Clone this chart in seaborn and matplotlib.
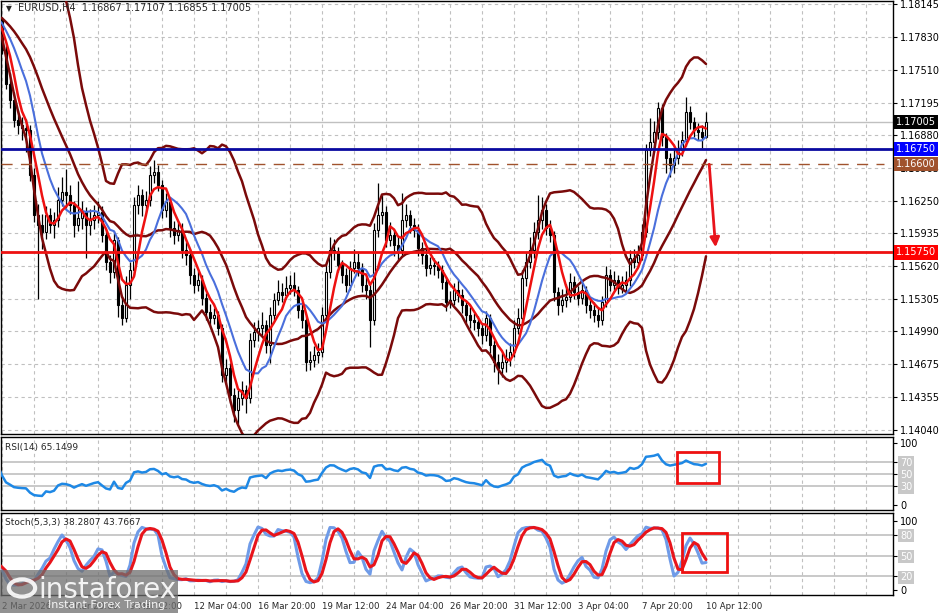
import numpy as np
import pandas as pd
import seaborn as sns
import matplotlib.pyplot as plt
from matplotlib.patches import Rectangle, Circle

# bars before the visible window (only feed the indicators)
warmup_closes = [1.1802, 1.1810, 1.1805, 1.1798, 1.1807, 1.1815, 1.1809, 1.1801, 1.1796, 1.1804,
                 1.1812, 1.1808, 1.1799, 1.1793, 1.1801, 1.1806, 1.1797, 1.1791, 1.1795, 1.1799]
warmup_highs = [1.1809, 1.1816, 1.1813, 1.1806, 1.1812, 1.1821, 1.1817, 1.1810, 1.1803, 1.1809,
                1.1818, 1.1815, 1.1808, 1.1800, 1.1806, 1.1812, 1.1806, 1.1799, 1.1801, 1.1805]
warmup_lows = [1.1795, 1.1800, 1.1799, 1.1792, 1.1796, 1.1805, 1.1803, 1.1795, 1.1790, 1.1795,
               1.1803, 1.1801, 1.1793, 1.1787, 1.1791, 1.1799, 1.1790, 1.1785, 1.1788, 1.1792]

# EURUSD H4, 2 Mar 2026 00:00 .. 10 Apr 2026 12:00
opens = [1.1799, 1.1770, 1.1737, 1.1722, 1.1703, 1.1698, 1.1695, 1.1693, 1.1650, 1.1611,
         1.1601, 1.1595, 1.1611, 1.1601, 1.1606, 1.1626, 1.1633, 1.1630, 1.1621, 1.1601,
         1.1608, 1.1614, 1.1601, 1.1606, 1.1611, 1.1614, 1.1592, 1.1566, 1.1556, 1.1587,
         1.1524, 1.1512, 1.1544, 1.1558, 1.1621, 1.1630, 1.1621, 1.1626, 1.1650, 1.1653,
         1.1640, 1.1616, 1.1624, 1.1599, 1.1592, 1.1597, 1.1577, 1.1573, 1.1553, 1.1544,
         1.1548, 1.1531, 1.1518, 1.1512, 1.1515, 1.1502, 1.1457, 1.1464, 1.1438, 1.1423,
         1.1435, 1.1442, 1.1435, 1.1491, 1.1498, 1.1502, 1.1505, 1.1486, 1.1515, 1.1529,
         1.1537, 1.1534, 1.1541, 1.1544, 1.1539, 1.1520, 1.1510, 1.1469, 1.1471, 1.1476,
         1.1479, 1.1515, 1.1556, 1.1577, 1.1576, 1.1563, 1.1553, 1.1544, 1.1560, 1.1566,
         1.1560, 1.1544, 1.1539, 1.1510, 1.1597, 1.1611, 1.1614, 1.1587, 1.1592, 1.1582,
         1.1577, 1.1606, 1.1611, 1.1601, 1.1597, 1.1579, 1.1573, 1.1560, 1.1563, 1.1562,
         1.1558, 1.1547, 1.1527, 1.1529, 1.1539, 1.1534, 1.1524, 1.1515, 1.1510, 1.1508,
         1.1502, 1.1495, 1.1512, 1.1486, 1.1469, 1.1464, 1.1469, 1.1473, 1.1479, 1.1502,
         1.1512, 1.1550, 1.1566, 1.1577, 1.1595, 1.1606, 1.1616, 1.1599, 1.1592, 1.1537,
         1.1524, 1.1529, 1.1532, 1.1547, 1.1537, 1.1531, 1.1539, 1.1524, 1.1520, 1.1515,
         1.1510, 1.1527, 1.1553, 1.1544, 1.1548, 1.1541, 1.1544, 1.1548, 1.1570, 1.1566,
         1.1573, 1.1595, 1.1674, 1.1681, 1.1691, 1.1714, 1.1686, 1.1666, 1.1659, 1.1666,
         1.1674, 1.1683, 1.1710, 1.1701, 1.1693, 1.1691, 1.16867]
highs = [1.1802, 1.1776, 1.1748, 1.1730, 1.1712, 1.1706, 1.1704, 1.1698, 1.1656, 1.1622,
         1.1612, 1.1620, 1.1618, 1.1614, 1.1638, 1.1648, 1.1655, 1.1640, 1.1625, 1.1644,
         1.1625, 1.1619, 1.1617, 1.1621, 1.1625, 1.1620, 1.1597, 1.1573, 1.1596, 1.1590,
         1.1533, 1.1552, 1.1566, 1.1628, 1.1640, 1.1636, 1.1634, 1.1658, 1.1664, 1.1659,
         1.1645, 1.1632, 1.1628, 1.1605, 1.1604, 1.1603, 1.1585, 1.1578, 1.1560, 1.1557,
         1.1553, 1.1536, 1.1525, 1.1521, 1.1519, 1.1506, 1.1472, 1.1468, 1.1444, 1.1442,
         1.1451, 1.1447, 1.1497, 1.1508, 1.1510, 1.1518, 1.1510, 1.1522, 1.1536, 1.1548,
         1.1546, 1.1552, 1.1553, 1.1556, 1.1543, 1.1526, 1.1514, 1.1480, 1.1485, 1.1488,
         1.1522, 1.1563, 1.1590, 1.1588, 1.1580, 1.1568, 1.1560, 1.1567, 1.1578, 1.1574,
         1.1565, 1.1551, 1.1545, 1.1603, 1.1642, 1.1630, 1.1620, 1.1604, 1.1598, 1.1590,
         1.1632, 1.1622, 1.1616, 1.1608, 1.1602, 1.1585, 1.1578, 1.1571, 1.1570, 1.1567,
         1.1563, 1.1551, 1.1538, 1.1546, 1.1548, 1.1540, 1.1529, 1.1522, 1.1517, 1.1514,
         1.1507, 1.1519, 1.1516, 1.1491, 1.1477, 1.1478, 1.1482, 1.1488, 1.1510, 1.1521,
         1.1558, 1.1575, 1.1590, 1.1604, 1.1630, 1.1628, 1.1622, 1.1606, 1.1596, 1.1542,
         1.1540, 1.1545, 1.1555, 1.1552, 1.1543, 1.1548, 1.1543, 1.1530, 1.1527, 1.1521,
         1.1533, 1.1562, 1.1559, 1.1557, 1.1553, 1.1552, 1.1557, 1.1577, 1.1578, 1.1582,
         1.1602, 1.1680, 1.1705, 1.1702, 1.1720, 1.1718, 1.1690, 1.1671, 1.1675, 1.1683,
         1.1692, 1.1725, 1.1716, 1.1706, 1.1700, 1.1698, 1.17107]
lows = [1.1766, 1.1733, 1.1714, 1.1696, 1.1689, 1.1683, 1.1672, 1.1644, 1.1604, 1.1530,
        1.1578, 1.1588, 1.1594, 1.1589, 1.1600, 1.1620, 1.1618, 1.1612, 1.1590, 1.1596,
        1.1598, 1.1570, 1.1592, 1.1598, 1.1603, 1.1585, 1.1558, 1.1546, 1.1550, 1.1513,
        1.1505, 1.1508, 1.1530, 1.1553, 1.1612, 1.1610, 1.1614, 1.1620, 1.1642, 1.1634,
        1.1608, 1.1609, 1.1590, 1.1583, 1.1586, 1.1570, 1.1563, 1.1545, 1.1536, 1.1538,
        1.1524, 1.1510, 1.1505, 1.1506, 1.1495, 1.1450, 1.1448, 1.1430, 1.1412, 1.1410,
        1.1428, 1.1420, 1.1430, 1.1484, 1.1490, 1.1494, 1.1478, 1.1468, 1.1510, 1.1524,
        1.1527, 1.1530, 1.1535, 1.1533, 1.1512, 1.1502, 1.1461, 1.1462, 1.1465, 1.1468,
        1.1474, 1.1510, 1.1550, 1.1568, 1.1556, 1.1546, 1.1537, 1.1539, 1.1555, 1.1552,
        1.1537, 1.1530, 1.1484, 1.1505, 1.1590, 1.1602, 1.1580, 1.1581, 1.1572, 1.1568,
        1.1572, 1.1600, 1.1594, 1.1590, 1.1572, 1.1564, 1.1552, 1.1554, 1.1553, 1.1550,
        1.1540, 1.1519, 1.1521, 1.1524, 1.1527, 1.1517, 1.1507, 1.1502, 1.1500, 1.1494,
        1.1487, 1.1490, 1.1478, 1.1460, 1.1448, 1.1455, 1.1460, 1.1466, 1.1474, 1.1496,
        1.1507, 1.1543, 1.1560, 1.1570, 1.1588, 1.1598, 1.1592, 1.1585, 1.1528, 1.1515,
        1.1518, 1.1522, 1.1527, 1.1530, 1.1524, 1.1525, 1.1517, 1.1512, 1.1508, 1.1503,
        1.1505, 1.1522, 1.1538, 1.1539, 1.1535, 1.1536, 1.1538, 1.1543, 1.1560, 1.1561,
        1.1568, 1.1590, 1.1668, 1.1672, 1.1684, 1.1678, 1.1652, 1.1648, 1.1652, 1.1660,
        1.1668, 1.1678, 1.1694, 1.1686, 1.1683, 1.1676, 1.16855]
closes = [1.1770, 1.1737, 1.1722, 1.1703, 1.1698, 1.1695, 1.1693, 1.1650, 1.1611, 1.1601,
          1.1595, 1.1611, 1.1601, 1.1606, 1.1626, 1.1633, 1.1630, 1.1621, 1.1601, 1.1608,
          1.1614, 1.1601, 1.1606, 1.1611, 1.1614, 1.1592, 1.1566, 1.1556, 1.1587, 1.1524,
          1.1512, 1.1544, 1.1558, 1.1621, 1.1630, 1.1621, 1.1626, 1.1650, 1.1653, 1.1640,
          1.1616, 1.1624, 1.1599, 1.1592, 1.1597, 1.1577, 1.1573, 1.1553, 1.1544, 1.1548,
          1.1531, 1.1518, 1.1512, 1.1515, 1.1502, 1.1457, 1.1464, 1.1438, 1.1423, 1.1435,
          1.1442, 1.1435, 1.1491, 1.1498, 1.1502, 1.1505, 1.1486, 1.1515, 1.1529, 1.1537,
          1.1534, 1.1541, 1.1544, 1.1539, 1.1520, 1.1510, 1.1469, 1.1471, 1.1476, 1.1479,
          1.1515, 1.1556, 1.1577, 1.1576, 1.1563, 1.1553, 1.1544, 1.1560, 1.1566, 1.1560,
          1.1544, 1.1539, 1.1510, 1.1597, 1.1611, 1.1614, 1.1587, 1.1592, 1.1582, 1.1577,
          1.1606, 1.1611, 1.1601, 1.1597, 1.1579, 1.1573, 1.1560, 1.1563, 1.1562, 1.1558,
          1.1547, 1.1527, 1.1529, 1.1539, 1.1534, 1.1524, 1.1515, 1.1510, 1.1508, 1.1502,
          1.1495, 1.1512, 1.1486, 1.1469, 1.1464, 1.1469, 1.1473, 1.1479, 1.1502, 1.1512,
          1.1550, 1.1566, 1.1577, 1.1595, 1.1606, 1.1616, 1.1599, 1.1592, 1.1537, 1.1524,
          1.1529, 1.1532, 1.1547, 1.1537, 1.1531, 1.1539, 1.1524, 1.1520, 1.1515, 1.1510,
          1.1527, 1.1553, 1.1544, 1.1548, 1.1541, 1.1544, 1.1548, 1.1570, 1.1566, 1.1573,
          1.1595, 1.1674, 1.1681, 1.1691, 1.1714, 1.1686, 1.1666, 1.1659, 1.1666, 1.1674,
          1.1683, 1.1710, 1.1701, 1.1693, 1.1691, 1.16867, 1.17005]

price_ticks = [1.18145, 1.17830, 1.17510, 1.17195, 1.16880, 1.16565, 1.16250,
               1.15935, 1.15620, 1.15305, 1.14990, 1.14675, 1.14355, 1.14040]
date_labels = ["2 Mar 2026", "4 Mar 20:00", "9 Mar 12:00", "12 Mar 04:00", "16 Mar 20:00",
               "19 Mar 12:00", "24 Mar 04:00", "26 Mar 20:00", "31 Mar 12:00", "3 Apr 04:00",
               "7 Apr 20:00", "10 Apr 12:00"]
level_prices = [1.16750, 1.16600, 1.15750]
level_colors = ["#0a0aa0", "#a0522d", "#ee1111"]
tag_colors = ["#0000ff", "#a0522d", "#ff0000"]

W, H = 940, 615


def rect(x0, y0, x1, y1):
    return [x0 / W, 1 - y1 / H, (x1 - x0) / W, (y1 - y0) / H]


def fxy(x, y):
    return x / W, 1 - y / H


sns.set_style("white")
plt.rcParams['font.family'] = ['DejaVu Sans']

# indicators
nw = len(warmup_closes)
c_all = pd.Series(warmup_closes + closes)
h_all = pd.Series(warmup_highs + highs)
l_all = pd.Series(warmup_lows + lows)
x_all = np.arange(len(c_all)) - nw

sma5 = c_all.rolling(5).mean()
sma10 = c_all.rolling(10).mean()
bb_mid = c_all.rolling(20).mean()
bb_sd = c_all.rolling(20).std(ddof=0)
bb_up = bb_mid + 2 * bb_sd
bb_lo = bb_mid - 2 * bb_sd

delta = c_all.diff()
avg_gain = delta.clip(lower=0).ewm(alpha=1 / 14, adjust=False).mean()
avg_loss = (-delta).clip(lower=0).ewm(alpha=1 / 14, adjust=False).mean()
rsi = 100 - 100 / (1 + avg_gain / avg_loss)

ll = l_all.rolling(5).min()
hh = h_all.rolling(5).max()
stoch_main = 100 * (c_all - ll).rolling(3).sum() / (hh - ll).rolling(3).sum()
stoch_sig = stoch_main.rolling(3).mean()

fig = plt.figure(figsize=(W / 100, H / 100), dpi=100)
ax = fig.add_axes(rect(1, 1, 893, 434))
ax_rsi = fig.add_axes(rect(1, 437, 893, 510))
ax_st = fig.add_axes(rect(1, 513, 893, 595))

xlim = (-0.25, 222.75)
grid_bars = np.arange(8, 223, 8)
label_bars = np.arange(0, 177, 16)

for a in (ax, ax_rsi, ax_st):
    a.set_xlim(*xlim)
    for s in a.spines.values():
        s.set_color("black")
        s.set_linewidth(1)
    a.set_xticks(grid_bars, minor=True)
    a.grid(True, which="both", axis="x", color="#c0c0c0", linestyle=(0, (3, 3)), linewidth=0.8)
    a.yaxis.tick_right()
    a.tick_params(axis="y", length=3, labelsize=7, pad=2, colors="black")
    a.tick_params(axis="x", which="minor", length=0)

# main price panel
ax.set_ylim(1.14000, 1.18174)
ax.set_yticks(price_ticks)
ax.set_yticklabels([f"{t:.5f}" for t in price_ticks])
ax.grid(True, axis="y", color="#c0c0c0", linestyle=(0, (3, 3)), linewidth=0.8)
ax.set_xticks(label_bars)
ax.tick_params(axis="x", which="major", length=0, labelbottom=False)

ax.axhline(closes[-1], color="#c0c0c0", lw=1, zorder=1)

xs = np.arange(len(closes))
o = np.array(opens)
c = np.array(closes)
bull = c >= o
ax.vlines(xs, lows, highs, color="black", lw=0.9, zorder=2)
body = np.maximum(np.abs(c - o), 0.00004)
ax.bar(xs, body, bottom=np.minimum(o, c), width=0.62,
       color=np.where(bull, "white", "black"), edgecolor="black", linewidth=0.8, zorder=2)

for band in (bb_up, bb_mid, bb_lo):
    sns.lineplot(x=x_all, y=band, ax=ax, color="#7a0a0a", linewidth=1.8, legend=False, zorder=3)
sns.lineplot(x=x_all, y=sma10, ax=ax, color="#4a6fdc", linewidth=1.5, legend=False, zorder=4)
sns.lineplot(x=x_all, y=sma5, ax=ax, color="#ee1111", linewidth=1.8, legend=False, zorder=5)

ax.axhline(level_prices[0], color=level_colors[0], lw=2, zorder=6)
ax.axhline(level_prices[1], xmax=0.99, color=level_colors[1], lw=1, dashes=(8, 6), zorder=6)
ax.axhline(level_prices[2], color=level_colors[2], lw=2, zorder=6)

ax.annotate("", xy=(178.4, 1.1580), xytext=(176.8, 1.1660),
            arrowprops=dict(arrowstyle="-|>", color="#e8141b", lw=2, mutation_scale=14,
                            shrinkA=0, shrinkB=0), zorder=7)

tag_tr = ax.get_yaxis_transform()
for price, col in [(closes[-1], "black")] + list(zip(level_prices, tag_colors)):
    ax.text(1.003, price, f"{price:.5f}", transform=tag_tr, ha="left", va="center",
            fontsize=7, color="white", clip_on=False, zorder=8,
            bbox=dict(boxstyle="square,pad=0.22", facecolor=col, edgecolor="none"))

ax.text(0.006, 0.983, "▼", transform=ax.transAxes, fontsize=5.5, va="center", ha="left")
ax.text(0.019, 0.983, "EURUSD,H4  1.16867 1.17107 1.16855 1.17005", transform=ax.transAxes,
        fontsize=7, va="center", ha="left")

# RSI panel
ax_rsi.set_ylim(-8.1, 109.7)
for lv in (70, 50, 30):
    ax_rsi.axhline(lv, color="#c0c0c0", lw=1.2, zorder=1)
sns.lineplot(x=x_all, y=rsi, ax=ax_rsi, color="#1e88e5", linewidth=1.8, legend=False, zorder=3)
ax_rsi.set_yticks([0, 30, 50, 70, 100])
ax_rsi.set_yticklabels(["0", "30", "50", "70", "100"])
ax_rsi.set_xticks(label_bars)
ax_rsi.tick_params(axis="x", which="major", length=0, labelbottom=False)
ax_rsi.text(0.004, 0.86, "RSI(14) 65.1499", transform=ax_rsi.transAxes, fontsize=6.5,
            va="center", ha="left")
ax_rsi.add_patch(Rectangle((168.8, 35.5), 10.5, 50, fill=False, edgecolor="#ee1111", lw=2, zorder=6))

# Stochastic panel
ax_st.set_ylim(-7.2, 111.6)
for lv in (80, 50, 20):
    ax_st.axhline(lv, color="#c0c0c0", lw=1.2, zorder=1)
sns.lineplot(x=x_all, y=stoch_main, ax=ax_st, color="#6f9be8", linewidth=2.2, legend=False, zorder=3)
sns.lineplot(x=x_all, y=stoch_sig, ax=ax_st, color="#e8141b", linewidth=2.2, legend=False, zorder=4)
ax_st.set_yticks([0, 20, 50, 80, 100])
ax_st.set_yticklabels(["0", "20", "50", "80", "100"])
ax_st.set_xticks(label_bars, labels=date_labels)
ax_st.tick_params(axis="x", which="major", length=3, labelsize=6.2, pad=2)
for lbl in ax_st.get_xticklabels():
    lbl.set_ha("left")
ax_st.text(0.004, 0.88, "Stoch(5,3,3) 38.2807 43.7667", transform=ax_st.transAxes, fontsize=6.5,
           va="center", ha="left")
ax_st.add_patch(Rectangle((170.0, 26.0), 11.2, 56.5, fill=False, edgecolor="#ee1111", lw=2, zorder=6))

for a, marked in ((ax_rsi, ("70", "50", "30")), (ax_st, ("80", "50", "20"))):
    for lbl in a.get_yticklabels():
        if lbl.get_text() in marked:
            lbl.set_color("white")
            lbl.set_bbox(dict(boxstyle="square,pad=0.15", facecolor="#c8c8c8", edgecolor="none"))

for a in (ax, ax_rsi, ax_st):
    a.set_xlabel("")
    a.set_ylabel("")

# watermark
fig.add_artist(Rectangle(fxy(0, 613), 178 / W, 43 / H, transform=fig.transFigure,
                         facecolor="#6e6e6e", alpha=0.75, edgecolor="none", zorder=20))
fig.add_artist(Circle(fxy(22, 588), 0.014, transform=fig.transFigure, fill=False,
                      edgecolor="white", lw=3, alpha=0.9, zorder=21))
fig.text(*fxy(38, 590), "instaforex", fontsize=20, color="white", va="center", ha="left",
         alpha=0.9, zorder=22)
fig.text(*fxy(48, 605), "Instant Forex Trading", fontsize=8, color="white", va="center",
         ha="left", alpha=0.9, zorder=22)

fig.savefig("out.png", dpi=100, facecolor="white")
